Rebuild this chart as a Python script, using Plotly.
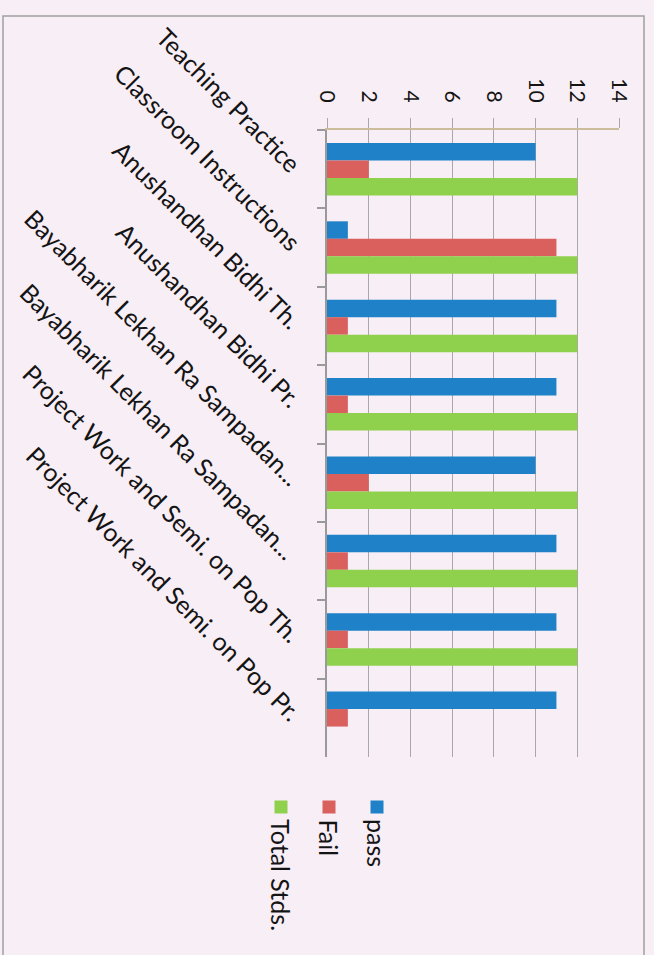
import plotly.graph_objects as go

categories = [
    "Teaching Practice",
    "Classroom Instructions",
    "Anushandhan Bidhi Th.",
    "Anushandhan Bidhi Pr.",
    "Bayabharik Lekhan Ra Sampadan...",
    "Bayabharik Lekhan Ra Sampadan... ",
    "Project Work and Semi. on Pop Th.",
    "Project Work and Semi. on Pop Pr.",
]
pass_vals = [10, 1, 11, 11, 10, 11, 11, 11]
fail_vals = [2, 11, 1, 1, 2, 1, 1, 1]
total_vals = [12, 12, 12, 12, 12, 12, 12, None]

series_names = ["pass", "Fail", "Total Stds."]
series_colors = ["#1f82c8", "#d9605c", "#8fd04c"]
series_values = [pass_vals, fail_vals, total_vals]

value_ticks = [0, 2, 4, 6, 8, 10, 12, 14]

FONT = "Lato"
BG = "#f8eef6"

# plot-area geometry in pixels (layout only)
L, R, T, B = 327, 35, 130, 198
W, H = 654, 955
PW, PH = W - L - R, H - T - B


def px_x(p):
    return (p - L) / PW


def px_y(p):
    return (H - B - p) / PH


fig = go.Figure()
for name, color, vals in zip(series_names, series_colors, series_values):
    fig.add_trace(go.Bar(
        y=categories, x=vals, name=name, orientation="h",
        marker=dict(color=color, line=dict(width=0)),
        showlegend=False,
    ))

fig.update_layout(
    width=W, height=H,
    paper_bgcolor=BG, plot_bgcolor=BG,
    margin=dict(l=L, r=R, t=T, b=B, autoexpand=False),
    barmode="group", bargap=0.33, bargroupgap=0,
    font=dict(family=FONT, size=22, color="#141414"),
)
fig.update_xaxes(
    side="top", range=[0, 14], tickvals=value_ticks,
    ticktext=[str(v) for v in value_ticks], tickangle=90,
    showgrid=True, gridcolor="#a8a8a8", gridwidth=1.3,
    showline=True, linecolor="#cbbd9c", linewidth=2,
    ticks="outside", ticklen=10, tickcolor="#a8a8a8", tickwidth=1.3,
    zeroline=False, tickfont=dict(size=21, family=FONT),
    ticklabelstandoff=8,
)
fig.update_yaxes(
    autorange="reversed", type="category", tickson="boundaries",
    tickangle=45, showline=True, linecolor="#9a9a9a", linewidth=1.5,
    ticks="outside", ticklen=8, tickcolor="#9a9a9a", tickwidth=1.5,
    showgrid=False, tickfont=dict(size=25, family=FONT),
    ticklabelstandoff=22,
)

# chart-area border of the scanned page
fig.add_shape(
    type="rect", xref="paper", yref="paper",
    x0=px_x(3), x1=px_x(644), y0=px_y(990), y1=px_y(16),
    line=dict(color="#a0a0a0", width=1.5), layer="below",
)

# rotated legend, built from the series lists
for i, (name, color) in enumerate(zip(series_names, series_colors)):
    xc = 377 - 48 * i
    fig.add_annotation(
        xref="paper", yref="paper",
        x=px_x(xc), y=px_y(800),
        text=" ", showarrow=False, width=12, height=12, bgcolor=color,
        xanchor="center", yanchor="top", borderpad=0,
    )
    fig.add_annotation(
        xref="paper", yref="paper",
        x=px_x(xc), y=px_y(817),
        text=name, textangle=90, showarrow=False,
        xanchor="center", yanchor="top",
        font=dict(size=25, family=FONT, color="#141414"),
    )

fig.write_html(
    "out.html",
    config={"displayModeBar": False},
    post_script="document.body.style.margin='0px';",
)
